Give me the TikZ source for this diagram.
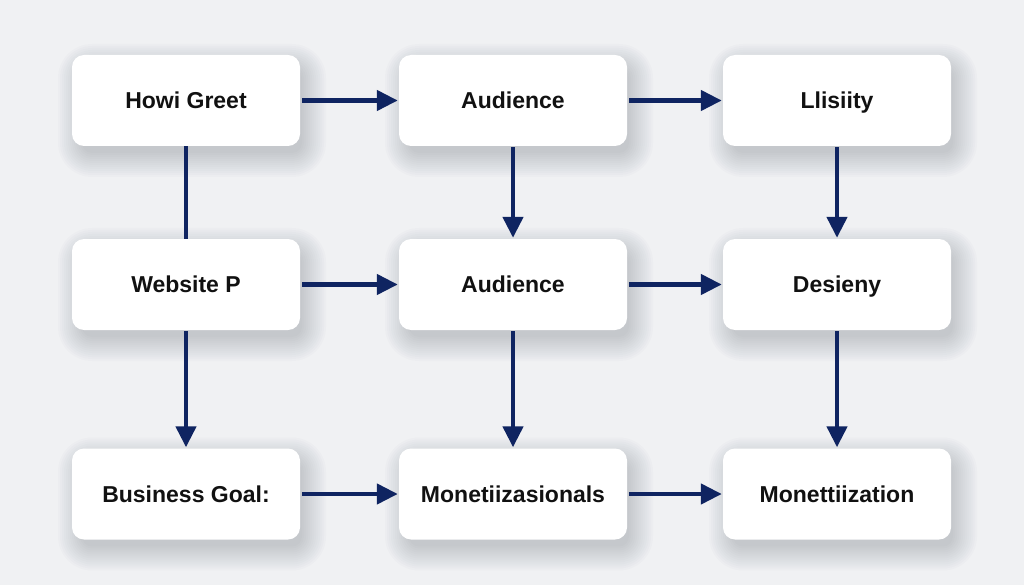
\documentclass[tikz,border=0pt]{standalone}
\usepackage{fontspec}
\setmainfont{Liberation Sans}
\usepackage{tikz}
\usetikzlibrary{arrows.meta}

\definecolor{pagebg}{HTML}{F0F1F3}
\definecolor{navy}{HTML}{0F2461}
\definecolor{inktext}{HTML}{111111}
\definecolor{slate}{HTML}{4A5266}

\begin{document}
\begin{tikzpicture}[
  x=1pt, y=-1pt,
  font=\fontsize{23}{27}\selectfont\bfseries,
  >={Triangle[length=21pt,width=20pt]},
  flowbox/.style={rectangle, rounded corners=12pt, fill=white, text=inktext,
    minimum width=228pt, minimum height=91pt, inner sep=0pt,
    text height=16pt, text depth=0pt},
  softshade/.style={fill=slate, opacity=0.018},
  flowmap/.style={->, draw=navy, fill=navy, line width=4.5pt},
  linkmap/.style={draw=navy, line width=4.5pt}
]
  \fill[pagebg] (0,0) rectangle (1024,585);
  \useasboundingbox (0,0) rectangle (1024,585);
  % soft shadows under the boxes
  \foreach \cx in {186,513,837}
    \foreach \cy in {100.5,284.5,494}
      \foreach \k in {-4,-2,...,20}
        \fill[softshade, rounded corners=14pt+\k pt]
          (\cx-114+6-\k,\cy-45.5+9-\k) rectangle (\cx+114+6+\k,\cy+45.5+11+\k);
  \node[flowbox] (b11) at (186,100.5) {Howi Greet};
  \node[flowbox] (b12) at (513,100.5) {Audience};
  \node[flowbox] (b13) at (837,100.5) {Llisiity};
  \node[flowbox] (b21) at (186,284.5) {Website P};
  \node[flowbox] (b22) at (513,284.5) {Audience};
  \node[flowbox] (b23) at (837,284.5) {Desieny};
  \node[flowbox] (b31) at (186,494) {Business Goal:};
  \node[flowbox] (b32) at (513,494) {Monetiizasionals};
  \node[flowbox] (b33) at (837,494) {Monettiization};
  \draw[flowmap] ([xshift=2pt]b11.east) -- ([xshift=-1pt]b12.west);
  \draw[flowmap] ([xshift=2pt]b12.east) -- ([xshift=-1pt]b13.west);
  \draw[flowmap] ([xshift=2pt]b21.east) -- ([xshift=-1pt]b22.west);
  \draw[flowmap] ([xshift=2pt]b22.east) -- ([xshift=-1pt]b23.west);
  \draw[flowmap] ([xshift=2pt]b31.east) -- ([xshift=-1pt]b32.west);
  \draw[flowmap] ([xshift=2pt]b32.east) -- ([xshift=-1pt]b33.west);
  \draw[linkmap] (b11.south) -- (b21.north);
  \draw[flowmap] ([yshift=-1pt]b12.south) -- ([yshift=1pt]b22.north);
  \draw[flowmap] ([yshift=-1pt]b13.south) -- ([yshift=1pt]b23.north);
  \draw[flowmap] ([yshift=-1pt]b21.south) -- ([yshift=1pt]b31.north);
  \draw[flowmap] ([yshift=-1pt]b22.south) -- ([yshift=1pt]b32.north);
  \draw[flowmap] ([yshift=-1pt]b23.south) -- ([yshift=1pt]b33.north);
\end{tikzpicture}
\end{document}
